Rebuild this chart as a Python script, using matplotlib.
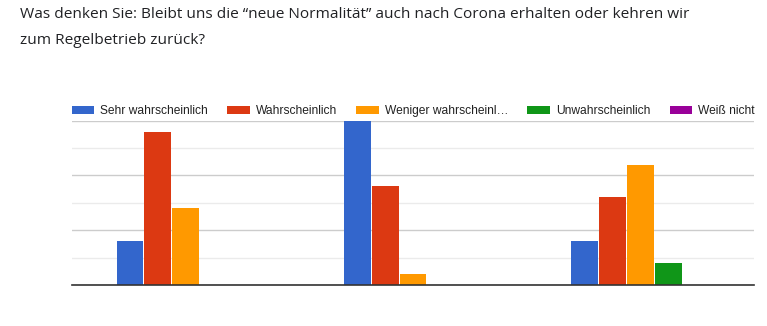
import matplotlib.pyplot as plt
import numpy as np

plt.rcParams['font.family'] = ['Liberation Sans', 'DejaVu Sans']

title_lines = ["Was denken Sie: Bleibt uns die \u201cneue Normalit\u00e4t\u201d auch nach Corona erhalten oder kehren wir",
               "zum Regelbetrieb zur\u00fcck?"]

answers = ["Sehr wahrscheinlich", "Wahrscheinlich", "Weniger wahrscheinl\u2026",
           "Unwahrscheinlich", "Wei\u00df nicht"]
colors = ["#3366cc", "#dc3912", "#ff9900", "#109618", "#990099"]

# responses per group (3 groups), one list per answer
sehr = [4, 15, 4]
wahr = [14, 9, 8]
weniger = [7, 1, 11]
unwahr = [0, 0, 2]
weiss = [0, 0, 0]
series = [sehr, wahr, weniger, unwahr, weiss]

fig = plt.figure(figsize=(7.67, 3.26), dpi=100)
ax = fig.add_axes([72 / 767, 41 / 326, 682 / 767, 164.3 / 326])

x = np.arange(len(sehr))
group_w = 0.612
pitch = group_w / len(series)
handles = []
for i, (vals, col, lab) in enumerate(zip(series, colors, answers)):
    offs = (i - (len(series) - 1) / 2) * pitch
    b = ax.bar(x + offs, vals, width=pitch * 0.965, color=col, label=lab, zorder=3)
    handles.append(b)

ax.set_xlim(-0.5, len(sehr) - 0.5)
ax.set_ylim(0, 15)
ax.set_yticks([0, 5, 10, 15])
ax.set_yticks([2.5, 7.5, 12.5], minor=True)
ax.grid(axis='y', which='major', color='#cccccc', linewidth=1, zorder=0)
ax.grid(axis='y', which='minor', color='#ebebeb', linewidth=1, zorder=0)
ax.tick_params(axis='both', which='both', length=0, labelleft=False, labelbottom=False)
for s in ['left', 'right', 'top']:
    ax.spines[s].set_visible(False)
ax.spines['bottom'].set_color('#333333')
ax.spines['bottom'].set_linewidth(1.2)
ax.spines['bottom'].set_zorder(4)

fig.legend(handles=handles, labels=answers, ncol=5, loc='center left',
           bbox_to_anchor=(71.5 / 767, 1 - 111 / 326), frameon=False,
           fontsize=8.65, handlelength=1.9, handleheight=0.72,
           handletextpad=0.48, columnspacing=1.6, borderpad=0, borderaxespad=0,
           labelcolor='#222222')

# two-line question as title, one text per line
for line, base in zip(title_lines, [18.5, 44.5]):
    fig.text(20 / 767, 1 - base / 326, line, ha='left', va='baseline', fontsize=11.05,
             family=['Open Sans', 'DejaVu Sans'], color='#202124')

fig.savefig('out.png', dpi=100)
